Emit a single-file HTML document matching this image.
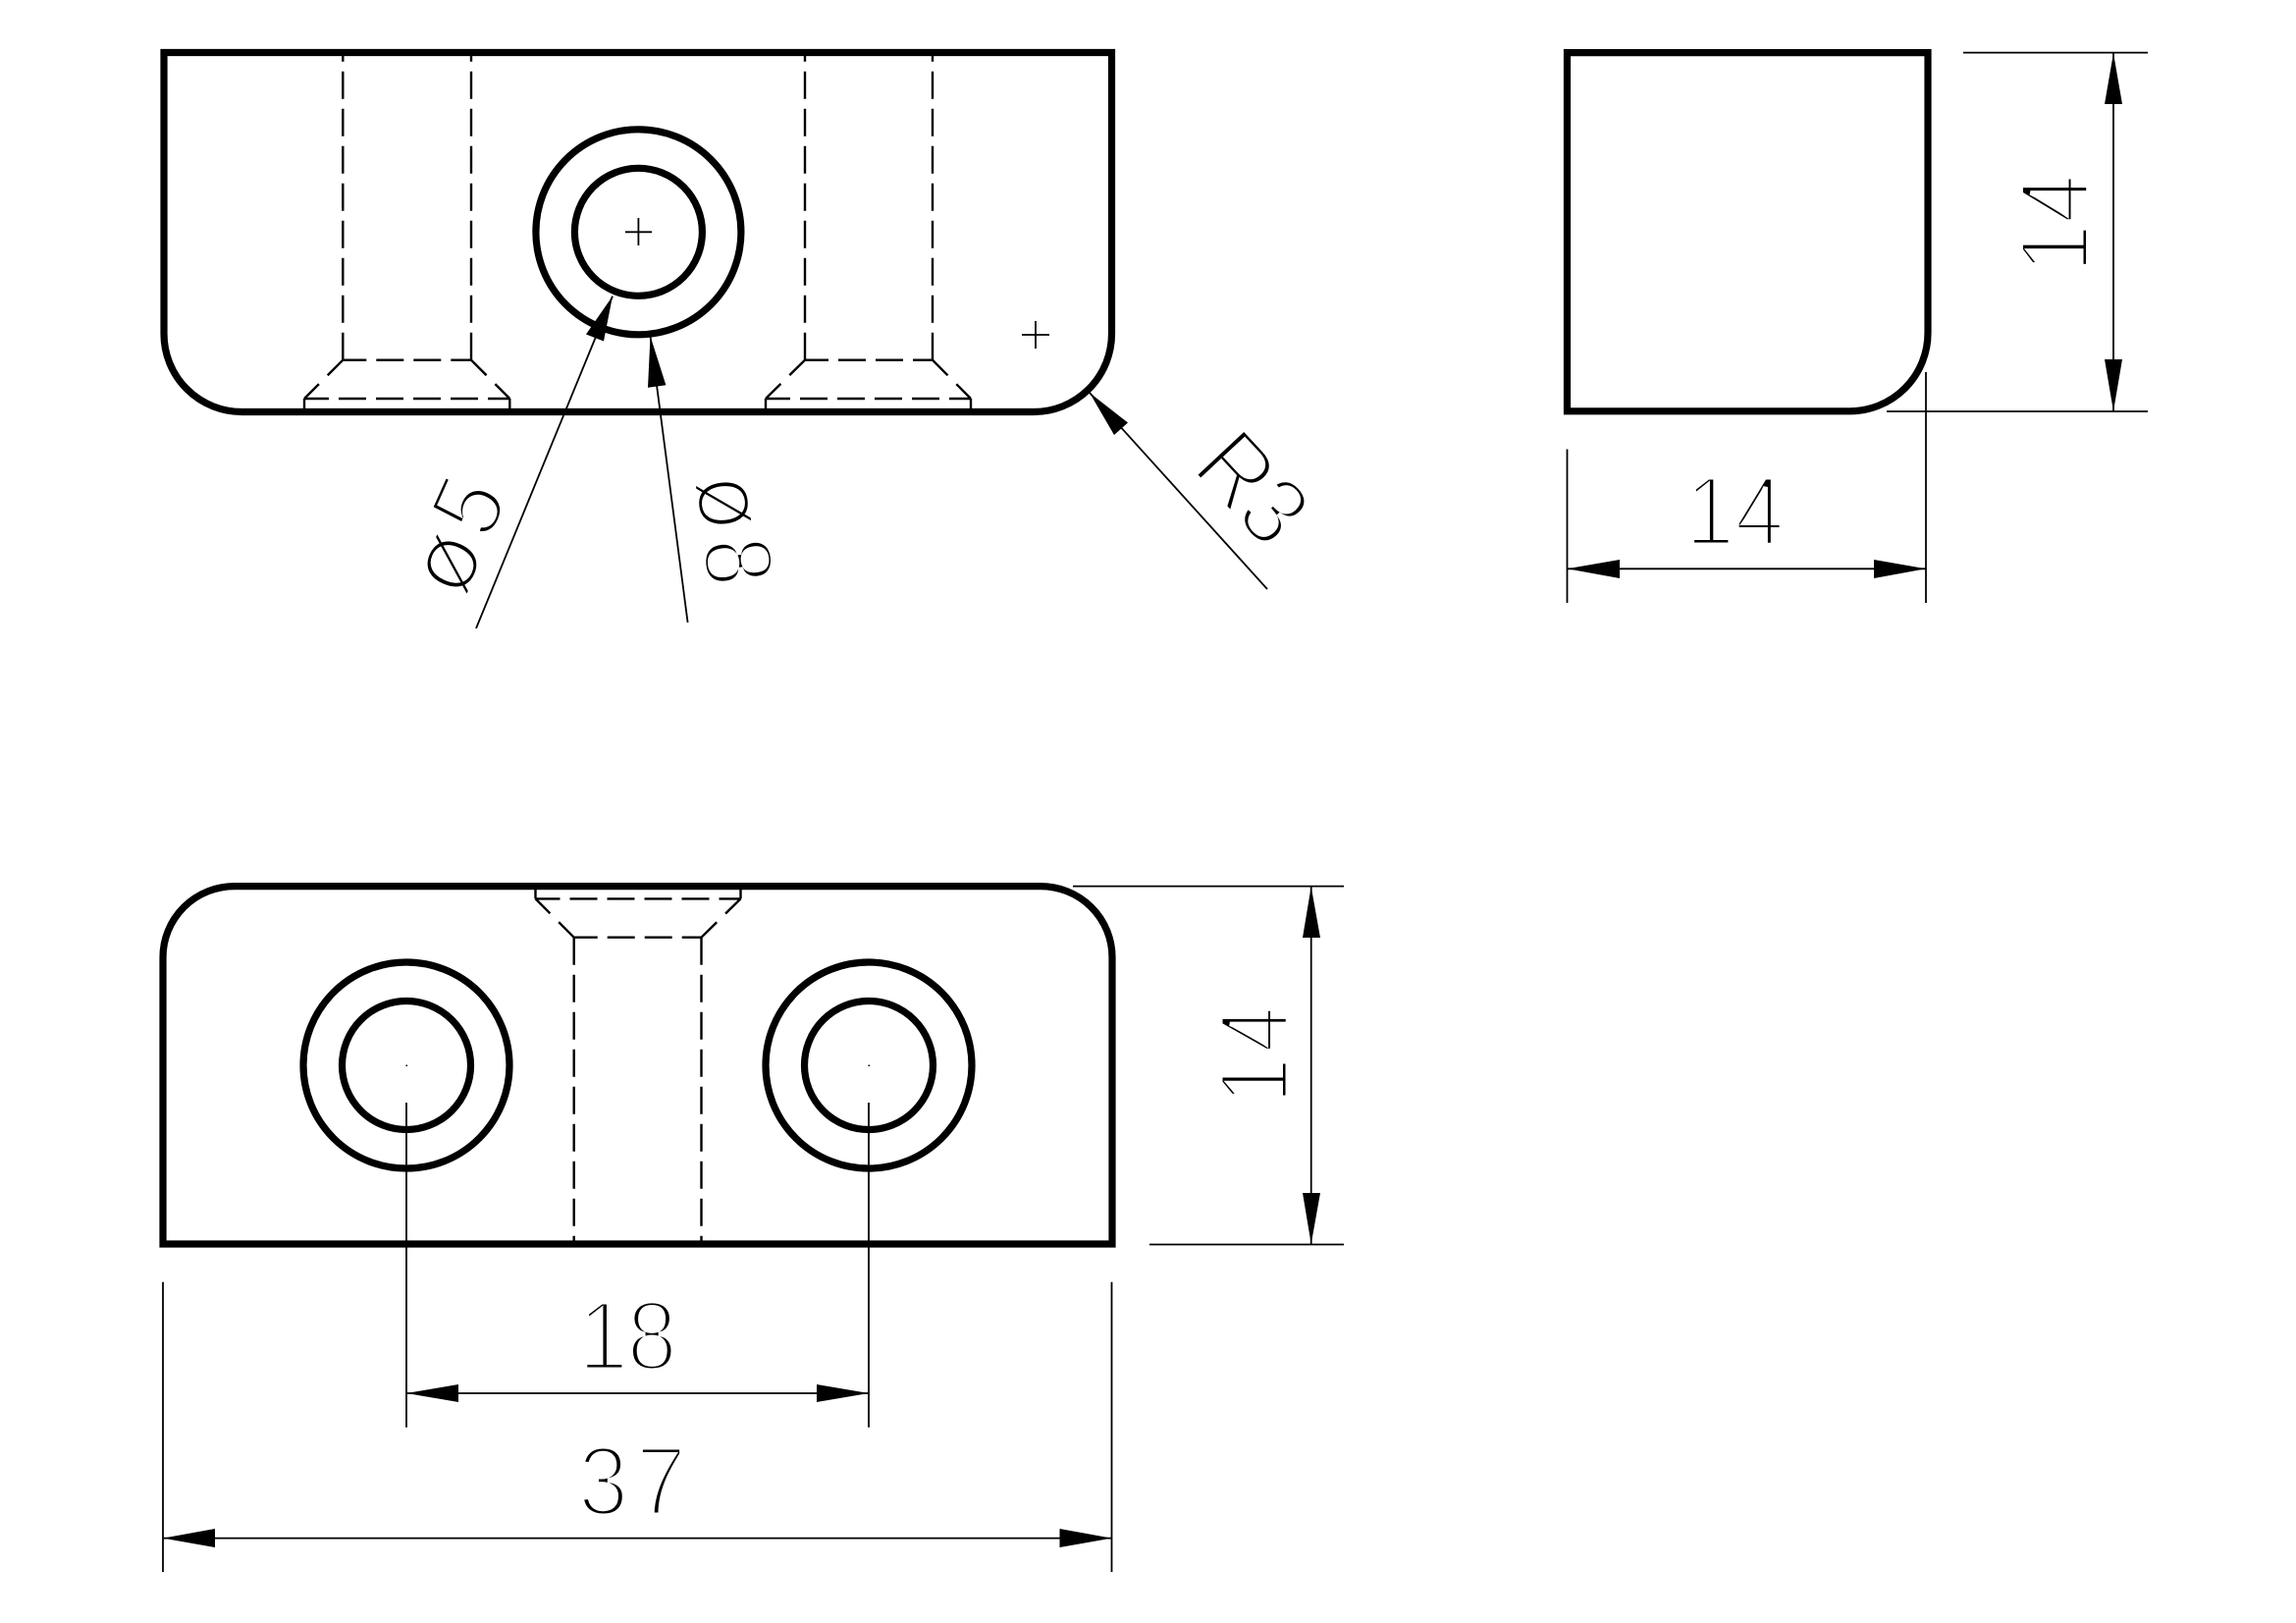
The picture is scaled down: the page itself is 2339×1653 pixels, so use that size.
<!DOCTYPE html>
<html><head><meta charset="utf-8"><style>
html,body{margin:0;padding:0;background:#fff;width:2339px;height:1653px;overflow:hidden}
svg{display:block}
text{font-family:"Liberation Sans",sans-serif;font-size:100px;fill:#000;stroke:#fff;stroke-width:5px}
.z{font-size:74px;stroke-width:2.8px}
.o{fill:none;stroke:#000;stroke-width:7.2;stroke-linejoin:miter}
.d{fill:none;stroke:#000;stroke-width:2.4}
.t{fill:none;stroke:#000;stroke-width:1.8}
.a{fill:#000;stroke:none}
</style></head><body>
<svg width="2339" height="1653" viewBox="0 0 2339 1653" xmlns="http://www.w3.org/2000/svg">
<rect width="2339" height="1653" fill="#fff"/>
<!-- labels -->
<g transform="translate(1717,555) scale(.9,1)"><text x="0 56">14</text></g>
<g transform="translate(2127.5,278) rotate(-90) scale(.9,1)"><text x="0 56">14</text></g>
<g transform="translate(589,1395) scale(.92,1)"><text x="0 54">18</text></g>
<g transform="translate(589,1543) scale(.92,1)"><text x="0 64">37</text></g>
<g transform="translate(1312,1124) rotate(-90) scale(.84,1)"><text x="0 62">14</text></g>
<g transform="translate(1212,478) rotate(47) scale(.92,1)"><text>R<tspan dx="-2">3</tspan></text></g>
<g transform="translate(473,609) rotate(-66) scale(.92,1)"><text><tspan class="z">Ø</tspan><tspan dx="10">5</tspan></text></g>
<g transform="translate(709,490) rotate(84) scale(.88,1)"><text><tspan class="z">Ø</tspan><tspan dx="12">8</tspan></text></g>

<!-- top view -->
<path class="o" d="M167,53.5 H1132.5 V340 A79.5,79.5 0 0 1 1053,419.5 H246.5 A79.5,79.5 0 0 1 167,340 Z"/>
<circle class="o" cx="650.4" cy="236.3" r="104.5"/>
<circle class="o" cx="650.4" cy="236.3" r="65"/>
<path class="t" d="M637,236.3H664M650.4,222V250M1041,341H1069M1055,327V355"/>
<g class="d" stroke-dasharray="28 10">
<path d="M349.3,366.7V54M480,366.7V54M820,366.7V54M950,366.7V54"/>
<path stroke-dashoffset="4" d="M349.3,366.7H480M820,366.7H950"/>
<path stroke-dashoffset="3" d="M310,406H519.3M780,406H989"/>
</g>
<g class="d" stroke-dasharray="22 12.5">
<path d="M349.3,366.7L310,406M480,366.7L519.3,406M820,366.7L780,406M950,366.7L989,406"/>
</g>
<path class="d" d="M310,406V419M519.3,406V419M780,406V419M989,406V419"/>
<!-- leaders -->
<path class="t" d="M485,640L624,301.6M700.6,634L662.5,342.4M1291,600L1110,400"/>
<polygon class="a" points="624,301.6 597,340.5 615,347.5"/>
<polygon class="a" points="662.5,342.4 660,394.7 678.4,392.3"/>
<polygon class="a" points="1110,400 1149,430.5 1135,443"/>

<!-- side view -->
<path class="o" d="M1596.5,53.6 H1964 V339 A79.8,79.8 0 0 1 1884.2,418.8 H1596.5 Z"/>
<path class="t" d="M2000,53.6H2188M1922,419H2188M2153,54V419M1596.5,457.5V614M1962,379V614M1596.5,579.3H1962"/>
<polygon class="a" points="2153,54 2144,106 2162,106"/>
<polygon class="a" points="2153,419 2144,366 2162,366"/>
<polygon class="a" points="1596.5,579.3 1650,570 1650,589"/>
<polygon class="a" points="1962,579.3 1909,570 1909,589"/>

<!-- bottom view -->
<path class="o" d="M166,1267 V975 A73,72.4 0 0 1 239,902.6 H1060 A73,72.4 0 0 1 1133,975 V1267 Z"/>
<circle class="o" cx="414" cy="1085" r="105"/>
<circle class="o" cx="414" cy="1085" r="65.5"/>
<circle class="o" cx="885" cy="1085" r="105"/>
<circle class="o" cx="885" cy="1085" r="65.5"/>
<rect x="413.5" y="1084.5" width="1.5" height="1.5"/>
<rect x="884.5" y="1084.5" width="1.5" height="1.5"/>
<path class="d" d="M545.5,903V915.4M754.5,903V915.4"/>
<g class="d" stroke-dasharray="28 10">
<path stroke-dashoffset="3" d="M545.5,915.4H754.5"/>
<path stroke-dashoffset="4" d="M584.7,954.7H714.5"/>
<path d="M584.7,954.7V1267M714.5,954.7V1267"/>
</g>
<g class="d" stroke-dasharray="22 12.5">
<path d="M584.7,954.7L545.5,915.4M714.5,954.7L754.5,915.4"/>
</g>
<path class="t" d="M414,1123V1453.7M885,1123V1453.7M414,1419H885M166,1305.8V1601M1132.5,1305.8V1601M166,1566.6H1132.5M1093,902.6H1369M1171,1267.5H1369M1335.7,903V1267"/>
<polygon class="a" points="414,1419 467,1410 467,1428"/>
<polygon class="a" points="885,1419 832,1410 832,1428"/>
<polygon class="a" points="166,1566.6 219,1557 219,1576"/>
<polygon class="a" points="1132.5,1566.6 1079.5,1557 1079.5,1576"/>
<polygon class="a" points="1335.7,903 1327,955 1345,955"/>
<polygon class="a" points="1335.7,1267 1327,1215 1345,1215"/>
</svg>
</body></html>
